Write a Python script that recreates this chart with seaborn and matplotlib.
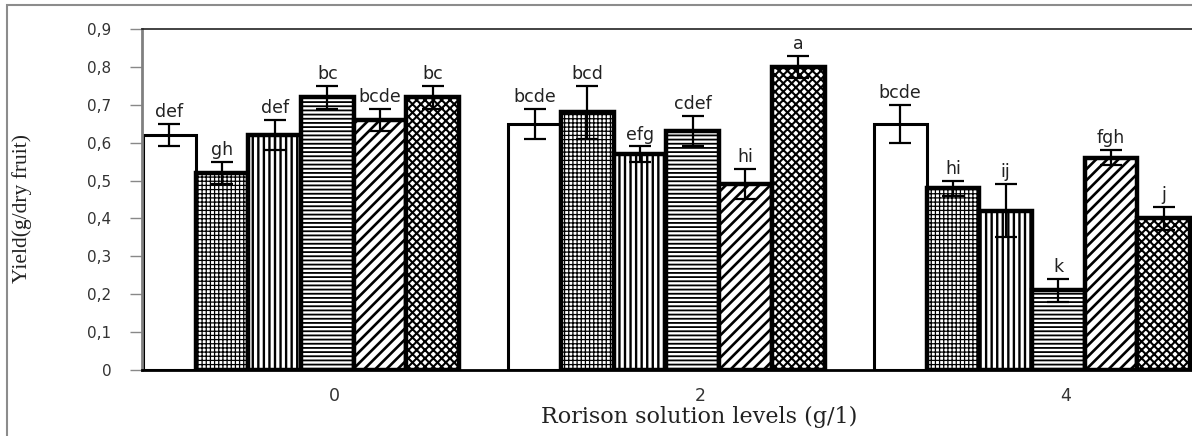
import numpy as np
import pandas as pd
import matplotlib
matplotlib.use("Agg")
import matplotlib.pyplot as plt
import seaborn as sns
from matplotlib.patches import Rectangle

# ---------------- data ----------------
levels = ["0", "2", "4"]
treatments = ["T1", "T2", "T3", "T4", "T5", "T6"]
yield_0 = [0.62, 0.52, 0.62, 0.72, 0.66, 0.72]
yield_2 = [0.65, 0.68, 0.57, 0.63, 0.49, 0.80]
yield_4 = [0.65, 0.48, 0.42, 0.21, 0.56, 0.40]
err_0 = [0.03, 0.03, 0.04, 0.03, 0.03, 0.03]
err_2 = [0.04, 0.07, 0.02, 0.04, 0.04, 0.03]
err_4 = [0.05, 0.02, 0.07, 0.03, 0.02, 0.03]
letters_0 = ["def", "gh", "def", "bc", "bcde", "bc"]
letters_2 = ["bcde", "bcd", "efg", "cdef", "hi", "a"]
letters_4 = ["bcde", "hi", "ij", "k", "fgh", "j"]
y_ticks = [0.0, 0.1, 0.2, 0.3, 0.4, 0.5, 0.6, 0.7, 0.8, 0.9]
y_tick_labels = ["0", "0,1", "0,2", "0,3", "0,4", "0,5", "0,6", "0,7", "0,8", "0,9"]
x_label = "Rorison solution levels (g/1)"
y_label = "Yield(g/dry fruit)"

values = [yield_0, yield_2, yield_4]
errors = [err_0, err_2, err_4]
letters = [letters_0, letters_2, letters_4]

rows = []
for lv, vals, errs, lets in zip(levels, values, errors, letters):
    for tr, v, e, l in zip(treatments, vals, errs, lets):
        rows.append({"level": lv, "treatment": tr, "yield": v, "err": e, "letter": l})
df = pd.DataFrame(rows)

# ---------------- style ----------------
sns.set_style("white")
plt.rcParams["font.family"] = ["DejaVu Sans"]
plt.rcParams["hatch.linewidth"] = 1.3
plt.rcParams["hatch.color"] = "black"

W, H = 1192, 436
fig = plt.figure(figsize=(W / 100, H / 100), dpi=100)
ax = fig.add_axes([142 / W, 1 - 370 / H, (W - 142) / W, (370 - 29) / H])

sns.barplot(data=df, x="level", y="yield", hue="treatment",
            order=levels, hue_order=treatments,
            palette=["white"] * len(treatments), edgecolor="black",
            linewidth=3.0, width=0.865, errorbar=None, legend=False,
            saturation=1, ax=ax)

hatches = [None, "++++", "|||", "----", "///", "xxxx"]
hatch_lw = [1.0, 0.9, 1.7, 1.3, 1.9, 1.5]
edge_lw = [2.2, 3.2, 3.2, 3.2, 3.2, 3.2]
for cont, h, hl, el in zip(ax.containers, hatches, hatch_lw, edge_lw):
    for p in cont.patches:
        if h:
            p.set_hatch(h)
        p.set_edgecolor("black")
        p.set_linewidth(el)
        if hasattr(p, "set_hatch_linewidth"):
            p.set_hatch_linewidth(hl)

# error bars and letters
for cont, tr in zip(ax.containers, treatments):
    sub = df[df["treatment"] == tr].set_index("level").loc[levels]
    xs = [p.get_x() + p.get_width() / 2 for p in cont.patches]
    ax.errorbar(xs, sub["yield"].values, yerr=sub["err"].values, fmt="none",
                ecolor="black", elinewidth=1.6, capsize=8, capthick=1.6, zorder=5)
    for x, v, e, l in zip(xs, sub["yield"].values, sub["err"].values, sub["letter"].values):
        ax.annotate(l, (x, v + e), xytext=(0, 5), textcoords="offset points",
                    ha="center", va="baseline", fontsize=12.5, color="#222222")

# axes
ax.set_ylim(0, 0.9)
ax.set_xlim(-0.435, 2.438)
ax.set_yticks(y_ticks)
ax.set_yticklabels(y_tick_labels, fontsize=11, color="#333333")
ax.set_xticks([i + 0.092 for i in range(len(levels))])
ax.set_xticklabels(levels, fontsize=12.5, color="#333333")
ax.tick_params(axis="y", length=9, width=1, color="#888888", pad=13, left=True)
ax.tick_params(axis="x", length=0, pad=12)

ax.spines["left"].set_color("#808080")
ax.spines["left"].set_linewidth(2)
ax.spines["bottom"].set_color("black")
ax.spines["bottom"].set_linewidth(2)
ax.spines["top"].set_color("#222222")
ax.spines["top"].set_linewidth(1.2)
ax.spines["right"].set_visible(False)

ax.set_xlabel(x_label, fontsize=16, family=["DejaVu Serif"], color="#222222")
ax.set_ylabel(y_label, fontsize=15.5, family=["Liberation Serif"], color="#222222")
ax.xaxis.set_label_coords(0.531, -0.105)
ax.yaxis.set_label_coords(-0.105, 0.475)

# outer frame
fig.add_artist(Rectangle((7 / W, -0.05), 1.2, 1 - 5 / H + 0.05,
                         transform=fig.transFigure, fill=False,
                         edgecolor="#8c8c8c", linewidth=1.5, clip_on=False))

fig.savefig("out.png", dpi=100)
